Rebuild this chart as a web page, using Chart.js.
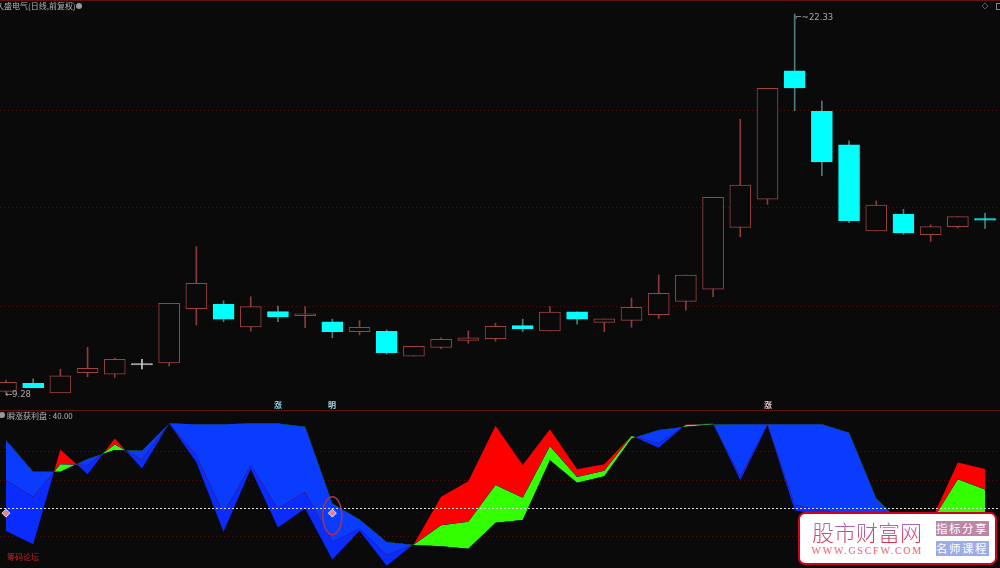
<!DOCTYPE html>
<html>
<head>
<meta charset="utf-8">
<style>
    html, body { margin: 0; padding: 0; background: #0a0a0a; overflow: hidden; width: 1000px; height: 568px; font-family: "Noto Sans CJK SC", sans-serif; }
    canvas { position: absolute; left: 0; }
    #priceChart { top: 0; }
    #indicatorChart { top: 410px; }
    #stamp { position: absolute; left: 798px; top: 512px; width: 195px; height: 49px; background: #fff; border: 2.5px solid #d0021b; border-radius: 7px; }
    #stamp div { position: absolute; white-space: nowrap; }
    #stamp .name { left: 12px; top: 5px; font: 300 22px/24px "Noto Sans CJK SC"; color: transparent; background: linear-gradient(to bottom, #9a78d8, #d8304a); -webkit-background-clip: text; background-clip: text; }
    #stamp .url { left: 11.5px; top: 30px; font: 10px/13px "Liberation Serif"; letter-spacing: 1.75px; color: #ec5a6c; }
    #stamp .tag { left: 135.5px; width: 53px; height: 15px; font: 11.5px/15px "Noto Sans CJK SC"; letter-spacing: 1.5px; text-align: center; color: #fff; }
    #stamp .t1 { top: 7px; background: #bb86a6; }
    #stamp .t2 { top: 26.5px; background: #9aace8; }
</style>
<script src="https://cdn.jsdelivr.net/npm/chart.js@4"></script>
</head>
<body>
<canvas id="priceChart" width="1000" height="410"></canvas>
<canvas id="indicatorChart" width="1000" height="158"></canvas>
<div id="stamp">
    <div class="name">股市财富网</div>
    <div class="url">WWW.GSCFW.COM</div>
    <div class="tag t1">指标分享</div>
    <div class="tag t2">名师课程</div>
</div>
<script>
// price panel
var opens = [9.37, 9.65, 9.32, 10.01, 9.96, 10.28, 10.35, 12.21, 12.36, 11.58, 12.11, 11.97, 11.76, 11.42, 11.43, 10.58, 10.88, 11.12, 11.18, 11.63, 11.45, 12.10, 11.74, 11.81, 12.00, 12.46, 12.88, 15.00, 15.97, 20.38, 18.99, 17.84, 14.88, 15.45, 14.75, 15.03, 15.30];
var closes = [9.68, 9.50, 9.90, 10.16, 10.47, 10.32, 12.39, 13.08, 11.85, 12.28, 11.93, 12.03, 11.42, 11.57, 10.70, 10.92, 11.16, 11.21, 11.60, 11.52, 12.09, 11.85, 11.86, 12.26, 12.74, 13.36, 16.03, 16.45, 19.78, 19.79, 17.25, 15.23, 15.77, 14.81, 15.03, 15.37, 15.25];
var highs = [9.76, 9.80, 10.13, 10.88, 10.51, 10.47, 12.39, 14.34, 12.48, 12.62, 12.30, 12.28, 11.85, 11.80, 11.48, 10.92, 11.21, 11.45, 11.71, 11.85, 12.28, 12.10, 11.86, 12.57, 13.37, 13.36, 16.03, 18.71, 19.78, 22.33, 19.34, 17.97, 15.91, 15.62, 15.09, 15.37, 15.49];
var lows = [9.28, 9.50, 9.32, 9.87, 9.85, 10.14, 10.24, 11.65, 11.76, 11.44, 11.76, 11.56, 11.21, 11.31, 10.65, 10.58, 10.84, 11.02, 11.09, 11.42, 11.45, 11.68, 11.42, 11.57, 11.87, 12.16, 12.62, 14.68, 15.79, 19.01, 16.78, 15.16, 14.88, 14.76, 14.52, 14.98, 14.97];
var priceGrid = [12.3, 15.67, 19.03];

// indicator panel
var fastLine = [24.2, 14.8, 81.7, 64.2, 89.4, 68.3, 100, 72.7, 23.5, 67.8, 26.6, 40, 4, 24.2, -0.5, 15, 48.2, 59.3, 98.3, 70.6, 96, 67.6, 71.3, 91.3, 82.8, 99.3, 99.9, 60, 98.8, 38.8, 35.3, 31.8, 24.7, 21.2, 30.4, 72.5, 67.8];
var midLine = [60, 48.2, 71.3, 70.6, 85.2, 74.6, 100, 77.6, 36.5, 70.6, 40, 51.7, 16.4, 25.9, 7.1, 14.6, 28.2, 30.6, 56.5, 47.5, 84, 62.3, 66.6, 91.1, 86.3, 99, 99.7, 62.8, 99.2, 42.4, 38.8, 35.3, 28.2, 23.3, 29.6, 60.7, 53.4];
var slowLine = [88.2, 65.9, 65.9, 75, 81.2, 80.7, 100, 99.5, 99.5, 99.9, 99.9, 97.6, 43.6, 32.3, 16.4, 14.3, 13.4, 11.5, 29.9, 31.8, 74.1, 58.1, 62.8, 89.4, 95.3, 97.6, 99.3, 99.5, 99.5, 99.5, 99.5, 93.4, 47.1, 28.2, 28.2, 35.3, 33.2];
var indicatorGrid = [20, 60, 80];
var level = 40;
var signalBars = [0, 12];
var signalValue = 36.7;

var bg = '#0a0a0a';
var upColor = '#9c4444';
var upWick = '#8a3c3c';
var downWick = '#4f7a7a';
var dojiColor = '#c8c8c8';
var xMin = -0.22, xMax = 36.55;

function xAxis() {
    return { type: 'linear', display: false, offset: false, min: xMin, max: xMax };
}
function kind(i) {
    if (i == 5) return 'doji';
    return closes[i] >= opens[i] ? 'up' : 'down';
}
function pairs(a, b) {
    return a.map(function (v, i) { return { x: i, y: [v, b[i]] }; });
}
function points(a) {
    return a.map(function (v, i) { return { x: i, y: v }; });
}
function gridAxis(min, max, values) {
    return {
        min: min,
        max: max,
        ticks: { display: false },
        border: { display: false, dash: [1, 3] },
        grid: { color: 'rgba(120,24,24,0.6)', lineWidth: 1, drawTicks: false },
        afterBuildTicks: function (axis) {
            axis.ticks = values.map(function (v) { return { value: v }; });
        }
    };
}
function topRule(c) {
    c.strokeStyle = '#5e1212';
    c.lineWidth = 1;
    c.beginPath(); c.moveTo(0, 0.5); c.lineTo(1000, 0.5); c.stroke();
}

// text and the small marks sitting on top of the panels
var priceText = {
    id: 'priceText',
    afterDraw: function (chart) {
        var c = chart.ctx, x = chart.scales.x, y = chart.scales.y;
        c.save();
        topRule(c);
        c.fillStyle = '#b4b4b4';
        c.font = '8px "Noto Sans CJK SC"';
        c.textBaseline = 'middle';
        c.fillText('久盛电气(日线,前复权)', -4, 6);
        c.fillStyle = '#999';
        c.beginPath(); c.arc(79, 6, 3, 0, Math.PI * 2); c.fill();
        c.strokeStyle = '#555';
        c.beginPath(); c.moveTo(985, 3); c.lineTo(988, 6); c.lineTo(985, 9); c.lineTo(982, 6); c.closePath(); c.stroke();
        c.strokeStyle = '#888';
        c.strokeRect(996.5, 3.5, 5, 6);
        c.fillStyle = '#a8a8a8';
        c.font = '8.5px "DejaVu Sans"';
        c.fillText('←9.28', x.getPixelForValue(0) - 1, y.getPixelForValue(9.28) + 1);
        c.fillText('⌐~22.33', x.getPixelForValue(29), y.getPixelForValue(22.33) + 4);
        c.font = 'bold 8px "Noto Sans CJK SC"';
        c.textAlign = 'center';
        [[278, '涨', '#8fd0e8'], [332, '明', '#a8dce8'], [768, '涨', '#e8c8c8']].forEach(function (m) {
            c.fillStyle = m[2];
            c.fillText(m[1], m[0], 405);
        });
        c.restore();
    }
};

var indicatorText = {
    id: 'indicatorText',
    afterDraw: function (chart) {
        var c = chart.ctx, x = chart.scales.x, y = chart.scales.y;
        c.save();
        topRule(c);
        c.fillStyle = '#999';
        c.beginPath(); c.arc(2, 5, 3, 0, Math.PI * 2); c.fill();
        c.fillStyle = '#b4b4b4';
        c.font = '8px "Noto Sans CJK SC"';
        c.textBaseline = 'middle';
        c.fillText('瞬涨获利盘 : 40.00', 7, 6);
        c.fillStyle = '#cc2020';
        c.fillText('筹码论坛', 7, 147);
        c.strokeStyle = '#b03048';
        c.lineWidth = 1.5;
        c.beginPath();
        c.ellipse(x.getPixelForValue(12), y.getPixelForValue(signalValue) + 2.5, 9.5, 19, 0, 0, Math.PI * 2);
        c.stroke();
        c.restore();
    }
};

var ctx1 = document.getElementById('priceChart').getContext('2d');
var priceChart = new Chart(ctx1, {
    type: 'bar',
    data: {
        datasets: [{
            label: 'wick',
            order: 2,
            data: pairs(lows, highs),
            barThickness: 1,
            grouped: false,
            backgroundColor: lows.map(function (v, i) {
                return kind(i) == 'up' ? upWick : kind(i) == 'doji' ? dojiColor : downWick;
            })
        },
        {
            label: 'body',
            order: 1,
            data: pairs(opens, closes),
            barThickness: 21,
            grouped: false,
            borderWidth: 1,
            borderSkipped: false,
            backgroundColor: lows.map(function (v, i) {
                return kind(i) == 'up' ? bg : kind(i) == 'doji' ? dojiColor : '#00ffff';
            }),
            borderColor: lows.map(function (v, i) {
                return kind(i) == 'up' ? upColor : kind(i) == 'doji' ? dojiColor : '#00ffff';
            })
        }]
    },
    options: {
        responsive: false,
        animation: false,
        layout: { padding: 0, autoPadding: false },
        scales: {
            x: xAxis(),
            y: gridAxis(8.73, 22.81, priceGrid)
        },
        plugins: {
            legend: { display: false },
            tooltip: { enabled: false }
        }
    },
    plugins: [priceText]
});

var ctx2 = document.getElementById('indicatorChart').getContext('2d');
var indicatorChart = new Chart(ctx2, {
    type: 'line',
    data: {
        datasets: [{
            label: 'fast',
            order: 3,
            data: points(fastLine),
            borderWidth: 0,
            pointRadius: 0,
            fill: { target: '+1', above: '#ff0000', below: '#0a2cff' }
        },
        {
            label: 'mid',
            order: 3,
            data: points(midLine),
            borderWidth: 0,
            pointRadius: 0,
            fill: { target: '+1', above: '#33ff00', below: '#0a3cff' }
        },
        {
            label: 'slow',
            order: 3,
            data: points(slowLine),
            borderWidth: 0,
            pointRadius: 0,
            fill: false
        },
        {
            label: 'level',
            order: 2,
            data: [{ x: xMin, y: level }, { x: xMax, y: level }],
            borderColor: '#e6e6e6',
            borderWidth: 1,
            borderDash: [2, 2],
            pointRadius: 0,
            fill: false
        },
        {
            label: 'signal',
            order: 1,
            data: signalBars.map(function (i) { return { x: i, y: signalValue }; }),
            showLine: false,
            pointStyle: 'rectRot',
            pointRadius: 4,
            pointBackgroundColor: '#e0868c',
            pointBorderColor: '#dddddd',
            pointBorderWidth: 1,
            fill: false
        }]
    },
    options: {
        responsive: false,
        animation: false,
        layout: { padding: 0, autoPadding: false },
        scales: {
            x: xAxis(),
            y: gridAxis(-2, 109.5, indicatorGrid)
        },
        plugins: {
            legend: { display: false },
            tooltip: { enabled: false }
        }
    },
    plugins: [indicatorText]
});
</script>
</body>
</html>
